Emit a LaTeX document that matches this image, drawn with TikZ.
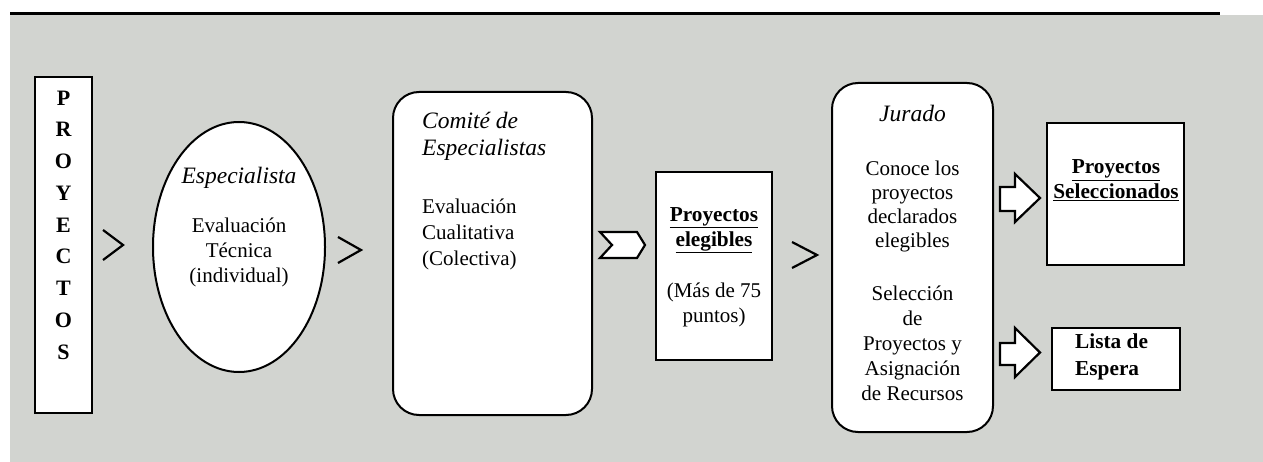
\documentclass[tikz,border=0pt]{standalone}
\usepackage{fontspec}
\setmainfont{Liberation Serif}
\usetikzlibrary{shapes.geometric}
\definecolor{bggray}{RGB}{210,212,208}
\tikzset{
  box/.style={draw=black, fill=white, line width=2pt, rectangle, inner sep=0pt},
  rbox/.style={box, rounded corners=26pt},
  txt/.style={font=\fontsize{21}{25}\selectfont, inner sep=0pt, align=center},
  itxt/.style={font=\itshape\fontsize{23.5}{27}\selectfont, inner sep=0pt},
  btxt/.style={font=\bfseries\fontsize{21.3}{25}\selectfont, inner sep=0pt, align=center},
  chev/.style={draw=black, line width=2.2pt, line join=miter},
  blockarrow/.style={draw=black, fill=white, line width=2.2pt, line join=miter},
}
\begin{document}
\begin{tikzpicture}[x=1pt,y=-1pt]
\useasboundingbox (0,0) rectangle (1263,462);
% background
\fill[bggray] (10,15) rectangle (1263,462);
\draw[line width=3pt] (10,13.5) -- (1220,13.5);

% PROYECTOS
\node[box, minimum width=57pt, minimum height=336pt] (proy) at (63.5,245) {};
\node[font=\bfseries\fontsize{22}{31.75}\selectfont, align=center, inner sep=0pt] (proytxt) at (63.5,225) {P\\R\\O\\Y\\E\\C\\T\\O\\S};

% chevron 1
\coordinate (c1a) at (103,230);
\coordinate (c1b) at (123,245);
\coordinate (c1c) at (103,260);
\draw[chev] (c1a) -- (c1b) -- (c1c);

% Especialista ellipse
\node[draw=black, fill=white, line width=2pt, ellipse, minimum width=172pt, minimum height=250pt, inner sep=0pt] (esp) at (239,247) {};
\node[itxt] (esptit) at (239,178) {Especialista};
\node[txt] (esptxt) at (239,252) {Evaluación\\Técnica\\(individual)};

% chevron 2
\coordinate (c2a) at (338,237);
\coordinate (c2b) at (361,250);
\coordinate (c2c) at (338,263);
\draw[chev] (c2a) -- (c2b) -- (c2c);

% Comite box
\node[rbox, minimum width=199pt, minimum height=323pt] (comite) at (492.5,253.5) {};
\node[itxt, anchor=west, align=left] (comtit) at (422,136.5) {Comité de\\Especialistas};
\node[txt, font=\fontsize{21}{26}\selectfont, anchor=west, align=left] (comtxt) at (422,234) {Evaluación\\Cualitativa\\(Colectiva)};

% block chevron
\coordinate (bc1) at (600,232);
\coordinate (bc2) at (637,232);
\coordinate (bc3) at (645,245);
\coordinate (bc4) at (637,258);
\coordinate (bc5) at (600,258);
\coordinate (bc6) at (612,245);
\draw[blockarrow] (bc1) -- (bc2) -- (bc3) -- (bc4) -- (bc5) -- (bc6) -- cycle;

% Proyectos elegibles
\node[box, minimum width=116pt, minimum height=188pt] (eleg) at (714,266) {};
\node[btxt] (elegtit) at (714,230) {\underline{Proyectos}\\\underline{elegibles}};
\node[txt] (elegtxt) at (714,304.5) {(Más de 75\\puntos)};

% chevron 3
\coordinate (c3a) at (792,242);
\coordinate (c3b) at (817,255);
\coordinate (c3c) at (792,268);
\draw[chev] (c3a) -- (c3b) -- (c3c);

% Jurado
\node[rbox, minimum width=161pt, minimum height=349pt] (jur) at (912.5,257.5) {};
\node[itxt] (jurtit) at (912.5,113) {Jurado};
\node[txt, font=\fontsize{21}{24.3}\selectfont] (jurtxt1) at (912.5,206.5) {Conoce los\\proyectos\\declarados\\elegibles};
\node[txt] (jurtxt2) at (912.5,343) {Selección\\de\\Proyectos y\\Asignación\\de Recursos};

% block arrows
\draw[blockarrow] (1000,187) -- (1015,187) -- (1015,174) -- (1040,198) -- (1015,222) -- (1015,211) -- (1000,211) -- cycle;
\draw[blockarrow] (1000,343) -- (1015,343) -- (1015,328) -- (1040,352.5) -- (1015,377) -- (1015,365) -- (1000,365) -- cycle;

% Proyectos Seleccionados
\node[box, minimum width=137pt, minimum height=142pt] (sel) at (1115.5,194) {};
\node[btxt] (seltxt) at (1116,180.5) {\underline{Proyectos}\\\underline{Seleccionados}};

% Lista de Espera
\node[box, minimum width=128pt, minimum height=62pt] (lista) at (1116,359) {};
\node[btxt, font=\bfseries\fontsize{21.3}{27}\selectfont, anchor=west, align=left] (listatxt) at (1075,356.5) {Lista de\\Espera};
\end{tikzpicture}
\end{document}
